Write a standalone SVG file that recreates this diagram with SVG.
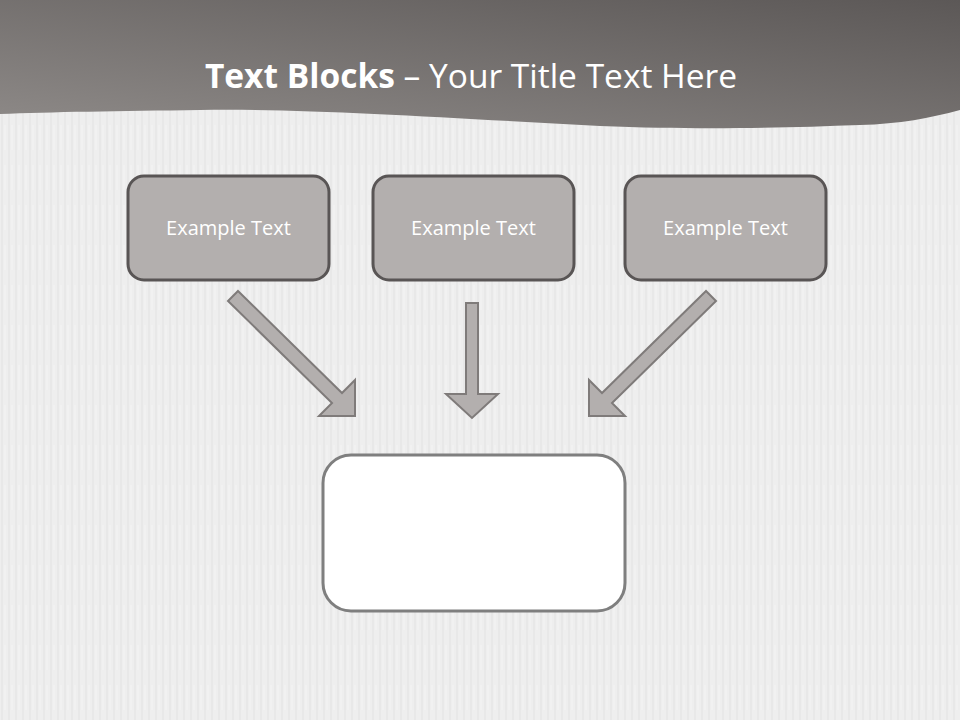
<svg xmlns="http://www.w3.org/2000/svg" width="960" height="720" viewBox="0 0 960 720">
  <defs>
    <linearGradient id="hdr" x1="0" y1="1" x2="1" y2="0">
      <stop offset="0" stop-color="#8e8a88"/>
      <stop offset="1" stop-color="#5c5857"/>
    </linearGradient>
    <pattern id="tex" width="7" height="40" patternUnits="userSpaceOnUse">
      <rect width="7" height="40" fill="#eeeeee"/>
      <line x1="2" y1="0" x2="2" y2="40" stroke="#e4e4e4" stroke-width="1.2"/>
      <line x1="5" y1="5" x2="5" y2="30" stroke="#f5f5f5" stroke-width="1"/>
    </pattern>
    <style>
      .top rect { fill: #b3afae; stroke: #595555; stroke-width: 3; }
      .top text { fill: #ffffff; font-family: "Open Sans", "Liberation Sans", sans-serif; font-size: 20px; text-anchor: middle; }
      .arrow { fill: #b3afae; stroke: #7f7b7a; stroke-width: 2; stroke-linejoin: miter; }
    </style>
  </defs>
  <rect width="960" height="720" fill="url(#tex)"/>
  <path d="M0 0 H960 V110 C930 118 900 124 860 125 C780 128 700 130 600 126 C450 118 300 108 200 110 C120 111 50 112 0 114 Z" fill="url(#hdr)"/>
  <text x="471" y="88" fill="#ffffff" font-family="'Open Sans', 'Liberation Sans', sans-serif" font-size="33.5" text-anchor="middle"><tspan font-weight="bold">Text Blocks</tspan> – Your Title Text Here</text>

  <g id="node1" class="top">
    <rect x="128" y="176" width="201" height="104" rx="16"/>
    <text x="228.5" y="235">Example Text</text>
  </g>
  <g id="node2" class="top">
    <rect x="373" y="176" width="201" height="104" rx="16"/>
    <text x="473.5" y="235">Example Text</text>
  </g>
  <g id="node3" class="top">
    <rect x="625" y="176" width="201" height="104" rx="16"/>
    <text x="725.5" y="235">Example Text</text>
  </g>
  <g id="node4">
    <rect x="323" y="455" width="302" height="156" rx="28" fill="#ffffff" stroke="#7f7f7f" stroke-width="3"/>
  </g>

  <g id="connectors">
    <polygon class="arrow" points="238,291 342,393 355,380 355,416 319,416 332,403 228,301"/>
    <polygon class="arrow" points="466,303 478,303 478,394 498,394 472,418 446,394 466,394"/>
    <polygon class="arrow" points="706,291 602,393 589,380 589,416 625,416 612,403 716,301"/>
  </g>
</svg>
